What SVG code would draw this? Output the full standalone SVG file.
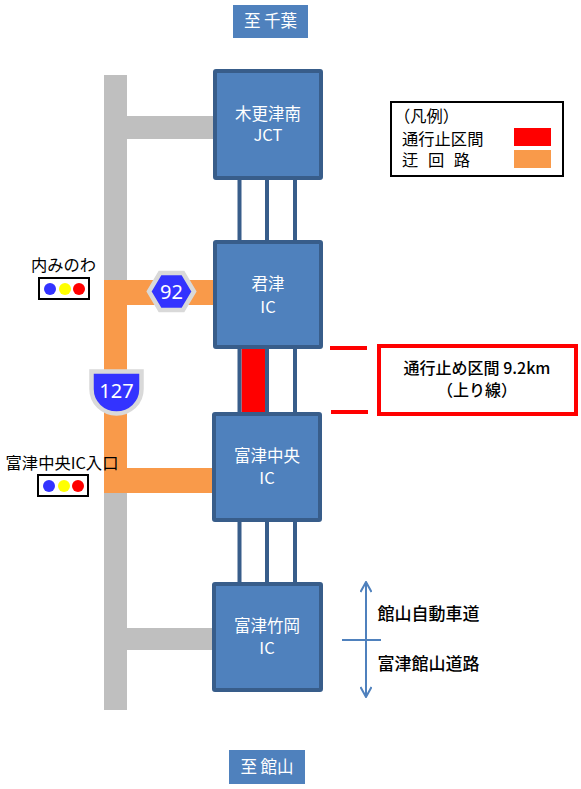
<svg xmlns="http://www.w3.org/2000/svg" width="581" height="789" viewBox="0 0 581 789">
<style>
text{font-family:"Noto Sans CJK JP","Liberation Sans",sans-serif;text-anchor:middle}
.ic{fill:#4f81bd;stroke:#385d8a;stroke-width:4}
.w{fill:#fff;font-size:16.500px}
.b{fill:#000;font-size:16.300px}
.bb{fill:#000;font-size:16px;font-weight:500}
.rn{fill:#000;font-size:17px;font-weight:500}
.road{fill:#bfbfbf}
.det{fill:#f99a4a}
.lane{fill:none;stroke:#385d8a;stroke-width:4}
.sig{fill:#fff;stroke:#000;stroke-width:2}
.cl{fill:#3333ff}.cy{fill:#ffff00}.cr{fill:#ff0000}
.red{stroke:#ff0000;stroke-width:4;fill:none}
.sh{fill:#3333ff;stroke:#d9d9d9;stroke-width:4.500}
.arr{fill:none;stroke:#4f81bd;stroke-width:2}
.num{fill:#fff;font-size:20px;font-family:"Noto Sans",sans-serif}
</style>
<defs><marker id="ah" viewBox="0 0 12 12" refX="11" refY="6" markerWidth="12" markerHeight="12" orient="auto-start-reverse" markerUnits="userSpaceOnUse"><path d="M1 0.500L11 6L1 11.500" fill="none" stroke="#4f81bd" stroke-width="2"/></marker></defs>
<g id="connectors">
<rect class="road" x="104" y="75" width="23" height="635"/>
<rect class="road" x="127" y="116" width="88" height="23"/>
<rect class="road" x="127" y="628" width="87" height="22"/>
<rect class="det" x="104" y="280" width="23" height="213"/>
<rect class="det" x="127" y="280" width="87" height="25"/>
<rect class="det" x="127" y="468" width="86" height="25"/>
<rect x="241.500" y="349" width="24" height="63" fill="#ff0000"/>
<path class="lane" d="M239.500 180V240M267 180V240M295 180V240M239.500 349V412M267 349V412M295 349V412M239.500 522V582M267 522V582M295 522V582"/>
<path class="red" d="M330 348H367M331 412H368"/>
<path class="arr" d="M366 582V697" marker-start="url(#ah)" marker-end="url(#ah)"/>
<path class="arr" d="M342 640H381"/>
</g>
<g id="to-chiba"><rect x="233" y="5" width="75" height="33" fill="#4f81bd"/><text class="w" x="270.500" y="27">至 千葉</text></g>
<g id="to-tateyama"><rect x="229" y="750" width="76" height="34" fill="#4f81bd"/><text class="w" x="267" y="773">至 館山</text></g>
<g id="kisarazu-minami"><rect class="ic" x="215" y="71" width="106" height="107" rx="1"/><text class="w" x="268" y="120">木更津南</text><text class="w" x="268" y="141">JCT</text></g>
<g id="kimitsu"><rect class="ic" x="215" y="242" width="106" height="105" rx="1"/><text class="w" x="268" y="290">君津</text><text class="w" x="268" y="313">IC</text></g>
<g id="futtsu-chuo"><rect class="ic" x="214" y="414" width="106" height="106" rx="1"/><text class="w" x="267" y="462">富津中央</text><text class="w" x="267" y="484">IC</text></g>
<g id="futtsu-takeoka"><rect class="ic" x="214" y="584" width="107" height="106" rx="1"/><text class="w" x="267" y="632">富津竹岡</text><text class="w" x="267" y="654">IC</text></g>
<g id="route-92"><path class="sh" d="M149 291.500L160 273H183L194 291.500L183 310H160Z"/><text class="num" x="171.500" y="298.500">92</text></g>
<g id="route-127"><path class="sh" d="M91.500 371.500H141.500V389C141.500 403 130 413.500 116.500 413.500C103 413.500 91.500 403 91.500 389Z"/><text class="num" x="116.500" y="398">127</text></g>
<g id="signal-uchiminowa"><text class="b" x="63.500" y="271">内みのわ</text><rect class="sig" x="39" y="278" width="50" height="21"/><circle class="cl" cx="50" cy="289" r="6"/><circle class="cy" cx="65" cy="289" r="6"/><circle class="cr" cx="79" cy="289" r="6"/></g>
<g id="signal-futtsu"><text class="b" x="62" y="469">富津中央IC入口</text><rect class="sig" x="38" y="475" width="50" height="21"/><circle class="cl" cx="49" cy="486" r="6"/><circle class="cy" cx="64" cy="486" r="6"/><circle class="cr" cx="78" cy="486" r="6"/></g>
<g id="closure-label"><rect class="red" x="379" y="346" width="197" height="68"/><text class="bb" x="477" y="374">通行止め区間 9.2km</text><text class="bb" x="477" y="396">（上り線）</text></g>
<g id="legend"><rect x="391" y="102" width="172" height="74" fill="#fff" stroke="#000" stroke-width="2"/><text class="b" x="394" y="122" style="text-anchor:start">（凡例）</text><text class="b" x="402" y="145" style="text-anchor:start">通行止区間</text><text class="b" x="402" y="166" style="text-anchor:start;word-spacing:6px">迂 回 路</text><rect x="514" y="128" width="37" height="18" fill="#ff0000"/><rect class="det" x="514" y="150" width="37" height="18"/></g>
<g id="road-names"><text class="rn" x="428.500" y="620">館山自動車道</text><text class="rn" x="428.500" y="670">富津館山道路</text></g>
</svg>
